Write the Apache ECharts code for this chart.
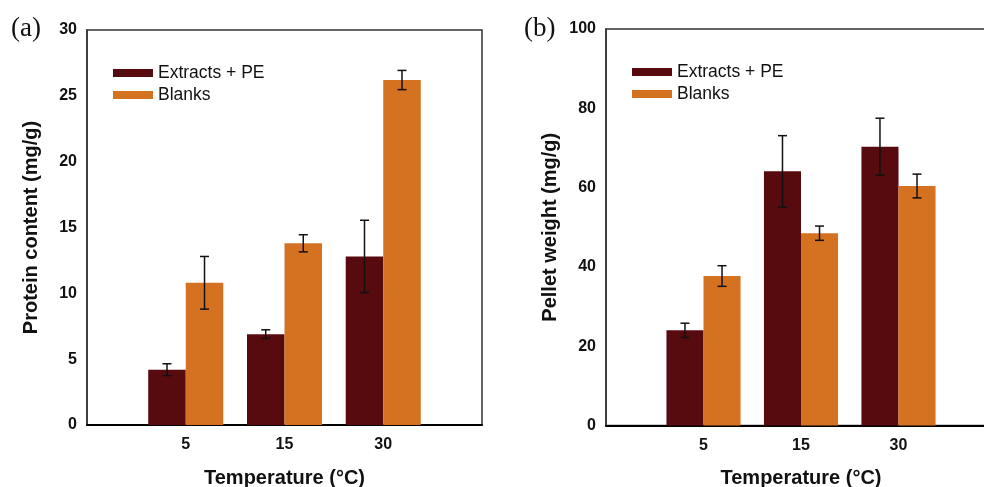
<!DOCTYPE html>
<html><head><meta charset="utf-8">
<script src="https://cdn.jsdelivr.net/npm/echarts@6/dist/echarts.min.js"></script>
<style>html,body{margin:0;padding:0;background:#fff;overflow:hidden}#c{width:984px;height:487px}</style>
</head><body><div id="c"></div>
<script>
const categories = ['5', '15', '30'];
const seriesNames = ['Extracts + PE', 'Blanks'];
// Panel (a): Protein content (mg/g)
const proteinExtracts = [4.2, 6.9, 12.8];
const proteinExtractsErr = [0.45, 0.33, 2.75];
const proteinBlanks = [10.8, 13.8, 26.2];
const proteinBlanksErr = [2.0, 0.65, 0.73];
// Panel (b): Pellet weight (mg/g)
const pelletExtracts = [24.0, 64.1, 70.3];
const pelletExtractsErr = [1.8, 9.0, 7.2];
const pelletBlanks = [37.7, 48.5, 60.4];
const pelletBlanksErr = [2.6, 1.8, 3.0];

const DARK = '#580b0e', ORANGE = '#d47222';
const axisCats = [''].concat(categories, ['']);
const pad = arr => [null].concat(arr, [null]);
const errData = (vals, errs) => vals.map((v, i) => [i + 1, v, errs[i]]);
const BAR_FRAC = 0.38;

function errRender(sign) {
  return function (params, api) {
    const x = api.value(0), v = api.value(1), e = api.value(2);
    const band = api.size([1, 0])[0];
    const cx = api.coord([x, v])[0] + sign * band * BAR_FRAC / 2;
    const yt = api.coord([x, v + e])[1];
    const yb = api.coord([x, v - e])[1];
    const cap = 4.5;
    const st = { stroke: '#111', lineWidth: 1.5 };
    return { type: 'group', children: [
      { type: 'line', shape: { x1: cx, y1: yt, x2: cx, y2: yb }, style: st },
      { type: 'line', shape: { x1: cx - cap, y1: yt, x2: cx + cap, y2: yt }, style: st },
      { type: 'line', shape: { x1: cx - cap, y1: yb, x2: cx + cap, y2: yb }, style: st }
    ]};
  };
}

const font = 'Liberation Sans, Arial, sans-serif';
function xAxisDef(gi) {
  return {
    type: 'category', gridIndex: gi, data: axisCats, boundaryGap: false,
    axisLine: { lineStyle: { color: '#000', width: 2 } },
    axisTick: { show: false },
    axisLabel: { color: '#111', fontFamily: font, fontWeight: 'bold', fontSize: 16, margin: 12, interval: 0 },
    splitLine: { show: false },
    name: 'Temperature (°C)', nameLocation: 'middle', nameGap: 43,
    nameTextStyle: { color: '#111', fontFamily: font, fontWeight: 'bold', fontSize: 20 }
  };
}
function yAxisDef(gi, max, interval, name) {
  return {
    type: 'value', gridIndex: gi, min: 0, max: max, interval: interval,
    axisLine: { show: true, lineStyle: { color: '#333', width: 1.5 } },
    axisTick: { show: false },
    splitLine: { show: false },
    axisLabel: { color: '#111', fontFamily: font, fontWeight: 'bold', fontSize: 16, margin: 10 },
    name: name, nameLocation: 'middle', nameGap: 46, nameRotate: 90,
    nameTextStyle: { color: '#111', fontFamily: font, fontWeight: 'bold', fontSize: 20 }
  };
}
function barSeries(name, color, data, gi) {
  return { name: name, type: 'bar', xAxisIndex: gi, yAxisIndex: gi, data: pad(data),
    barWidth: (BAR_FRAC * 100) + '%', barGap: '0%', itemStyle: { color: color }, z: 2 };
}
function errSeries(name, vals, errs, gi, sign) {
  return { name: name + ' err', type: 'custom', xAxisIndex: gi, yAxisIndex: gi,
    data: errData(vals, errs), encode: { x: 0, y: 1 }, renderItem: errRender(sign), z: 5, silent: true };
}
function legendDef(left, top) {
  return { left: left, top: top, orient: 'vertical', icon: 'rect', itemWidth: 40, itemHeight: 8, itemGap: 4,
    data: seriesNames, textStyle: { color: '#111', fontFamily: font, fontSize: 17.5 } };
}

const chart = echarts.init(document.getElementById('c'), null, { renderer: 'canvas' });
chart.setOption({
  animation: false,
  backgroundColor: '#fff',
  title: [
    { text: '(a)', left: 6, top: 10, textStyle: { fontFamily: 'Liberation Serif, serif', fontWeight: 'normal', fontSize: 27, color: '#111' } },
    { text: '(b)', left: 519, top: 10, textStyle: { fontFamily: 'Liberation Serif, serif', fontWeight: 'normal', fontSize: 27, color: '#111' } }
  ],
  legend: [legendDef(108, 59), legendDef(627, 58)],
  grid: [
    { left: 87, top: 30, width: 395, height: 395, show: true, borderColor: '#333', borderWidth: 1.5, outerBoundsMode: 'none', containLabel: false },
    { left: 606, top: 29, width: 390, height: 396.5, show: true, borderColor: '#333', borderWidth: 1.5, outerBoundsMode: 'none', containLabel: false }
  ],
  xAxis: [xAxisDef(0), xAxisDef(1)],
  yAxis: [yAxisDef(0, 30, 5, 'Protein content (mg/g)'), yAxisDef(1, 100, 20, 'Pellet weight (mg/g)')],
  series: [
    barSeries(seriesNames[0], DARK, proteinExtracts, 0),
    barSeries(seriesNames[1], ORANGE, proteinBlanks, 0),
    errSeries(seriesNames[0], proteinExtracts, proteinExtractsErr, 0, -1),
    errSeries(seriesNames[1], proteinBlanks, proteinBlanksErr, 0, 1),
    barSeries(seriesNames[0], DARK, pelletExtracts, 1),
    barSeries(seriesNames[1], ORANGE, pelletBlanks, 1),
    errSeries(seriesNames[0], pelletExtracts, pelletExtractsErr, 1, -1),
    errSeries(seriesNames[1], pelletBlanks, pelletBlanksErr, 1, 1)
  ]
});
</script></body></html>
